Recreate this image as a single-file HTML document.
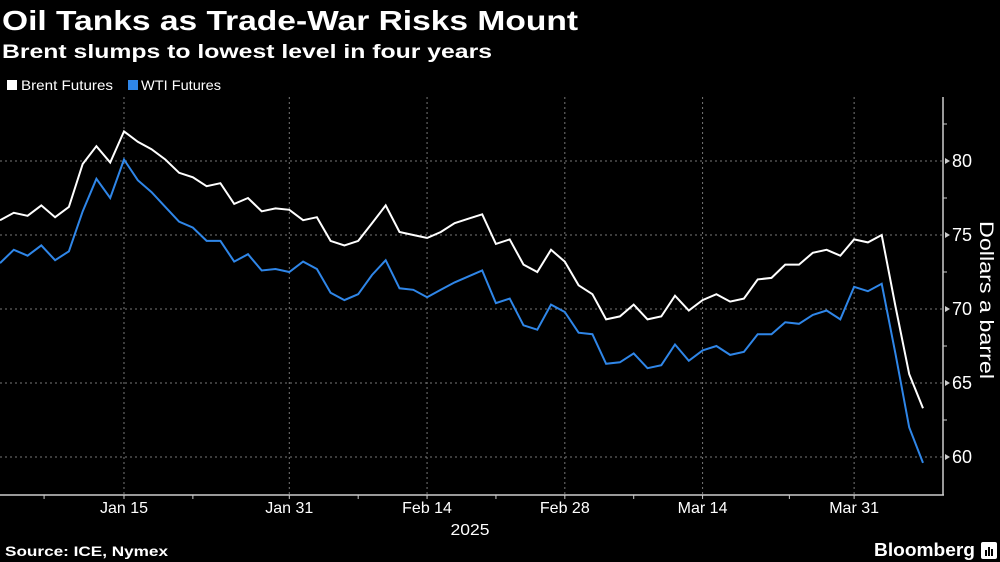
<!DOCTYPE html>
<html><head><meta charset="utf-8"><style>
html,body{margin:0;padding:0;background:#000;}
svg{display:block;font-family:"Liberation Sans",sans-serif;}
</style></head><body>
<svg id="chart" width="1000" height="562" viewBox="0 0 1000 562">
<rect x="0" y="0" width="1000" height="562" fill="#000"/>
<text x="2" y="30" font-size="28" font-weight="bold" fill="#fff" textLength="576" lengthAdjust="spacingAndGlyphs">Oil Tanks as Trade-War Risks Mount</text>
<text x="2" y="58" font-size="19" font-weight="bold" fill="#fff" textLength="490" lengthAdjust="spacingAndGlyphs">Brent slumps to lowest level in four years</text>
<g>
<rect x="7" y="80" width="10" height="10" fill="#fff"/>
<text x="21" y="90" font-size="14" fill="#fff" textLength="92" lengthAdjust="spacingAndGlyphs">Brent Futures</text>
<rect x="128" y="80" width="10" height="10" fill="#2f86e8"/>
<text x="141" y="90" font-size="14" fill="#fff" textLength="80" lengthAdjust="spacingAndGlyphs">WTI Futures</text>
</g>
<g id="grid"></g>
<g id="axes"></g>
<g id="series"></g>
<text transform="translate(980,300) rotate(90)" text-anchor="middle" font-size="19" fill="#fff" textLength="158" lengthAdjust="spacingAndGlyphs">Dollars a barrel</text>
<text x="470" y="535" text-anchor="middle" font-size="16" fill="#fff" textLength="39" lengthAdjust="spacingAndGlyphs">2025</text>
<text x="5" y="556" font-size="14" font-weight="bold" fill="#fff" textLength="163" lengthAdjust="spacingAndGlyphs">Source: ICE, Nymex</text>
<text x="975" y="556" text-anchor="end" font-size="18" font-weight="bold" fill="#fff" textLength="101" lengthAdjust="spacingAndGlyphs">Bloomberg</text>
<g>
<rect x="981" y="542" width="16" height="17" rx="2" fill="#fff"/>
<rect x="985" y="550" width="2" height="6" fill="#000"/>
<rect x="988" y="547" width="2" height="9" fill="#000"/>
<rect x="991" y="549" width="2" height="7" fill="#000"/>
</g>
</svg>
<script>
const brent = [76.0,76.5,76.3,77.0,76.2,76.9,79.8,81.0,79.9,82.0,81.3,80.8,80.1,79.2,78.9,78.3,78.5,77.1,77.5,76.6,76.8,76.7,76.0,76.2,74.6,74.3,74.6,75.8,77.0,75.2,75.0,74.8,75.2,75.8,76.1,76.4,74.4,74.7,73.0,72.5,74.0,73.2,71.6,71.0,69.3,69.5,70.3,69.3,69.5,70.9,69.9,70.6,71.0,70.5,70.7,72.0,72.1,73.0,73.0,73.8,74.0,73.6,74.7,74.5,75.0,70.2,65.6,63.3];
const wti = [73.1,74.0,73.6,74.3,73.3,73.9,76.6,78.8,77.5,80.1,78.7,77.9,76.9,75.9,75.5,74.6,74.6,73.2,73.7,72.6,72.7,72.5,73.2,72.7,71.1,70.6,71.0,72.3,73.3,71.4,71.3,70.8,71.3,71.8,72.2,72.6,70.4,70.7,68.9,68.6,70.3,69.8,68.4,68.3,66.3,66.4,67.0,66.0,66.2,67.6,66.5,67.2,67.5,66.9,67.1,68.3,68.3,69.1,69.0,69.6,69.9,69.3,71.5,71.2,71.7,67.0,62.0,59.6];
const yTicks = [60,65,70,75,80];
const yMinorTicks = [62.5,67.5,72.5,77.5,82.5];
const xLabels = ["Jan 15","Jan 31","Feb 14","Feb 28","Mar 14","Mar 31"];
const xLabelIdx = [9,21,31,41,51,62];
const xMinorIdx = [3.2,14,26,36,46,57.3];

const NS="http://www.w3.org/2000/svg";
const X0=0, DX=923/67, AXIS_X=943, TOP=97, BOTTOM=495;
function xs(i){return X0+i*DX;}
function ys(v){return 161+(80-v)*14.8;}
function mk(tag,attrs,parent){const e=document.createElementNS(NS,tag);for(const k in attrs)e.setAttribute(k,attrs[k]);parent.appendChild(e);return e;}
const grid=document.getElementById('grid'), axes=document.getElementById('axes'), series=document.getElementById('series');

yTicks.forEach(v=>{
  const l=mk('line',{x1:0,x2:AXIS_X,y1:ys(v),y2:ys(v),stroke:'#777','stroke-width':1,'stroke-dasharray':'2,3'},grid);
  
  
  const t=mk('path',{d:`M${AXIS_X+2},${ys(v)-3} L${AXIS_X+7},${ys(v)} L${AXIS_X+2},${ys(v)+3} Z`,fill:'#ccc'},axes);
  
  
  const tx=mk('text',{x:AXIS_X+9,y:ys(v)+6,'font-size':18,fill:'#fff'},axes);
  tx.textContent=String(v);
  
  
});
yMinorTicks.forEach(v=>{
  const t=mk('line',{x1:AXIS_X,x2:AXIS_X+4,y1:ys(v),y2:ys(v),stroke:'#ccc','stroke-width':1},axes);
  
  
});
xLabelIdx.forEach((i,k)=>{
  const x=xs(i);
  const l=mk('line',{x1:x,x2:x,y1:TOP,y2:BOTTOM,stroke:'#777','stroke-width':1,'stroke-dasharray':'2,3'},grid);
  
  
  const t=mk('line',{x1:x,x2:x,y1:BOTTOM,y2:BOTTOM+4,stroke:'#ccc','stroke-width':1},axes);
  
  
  const tx=mk('text',{x:x,y:513,'text-anchor':'middle','font-size':16,fill:'#fff'},axes);
  tx.textContent=xLabels[k];
  
  
});
xMinorIdx.forEach(i=>{
  const t=mk('line',{x1:xs(i),x2:xs(i),y1:BOTTOM,y2:BOTTOM+4,stroke:'#ccc','stroke-width':1},axes);
  
  
});
const xa=mk('line',{x1:0,x2:AXIS_X+1,y1:BOTTOM,y2:BOTTOM,stroke:'#ccc','stroke-width':1.5},axes);


const ya=mk('line',{x1:AXIS_X,x2:AXIS_X,y1:TOP,y2:BOTTOM,stroke:'#ccc','stroke-width':1.5},axes);



function line(data,color,name){
  const d=data.map((v,i)=>(i?'L':'M')+xs(i).toFixed(1)+','+ys(v).toFixed(1)).join(' ');
  const p=mk('path',{d:d,fill:'none',stroke:color,'stroke-width':2,'stroke-linejoin':'miter'},series);
  
  
}
line(wti,'#2f86e8','wti-line');
line(brent,'#ffffff','brent-line');
</script>
</body></html>
